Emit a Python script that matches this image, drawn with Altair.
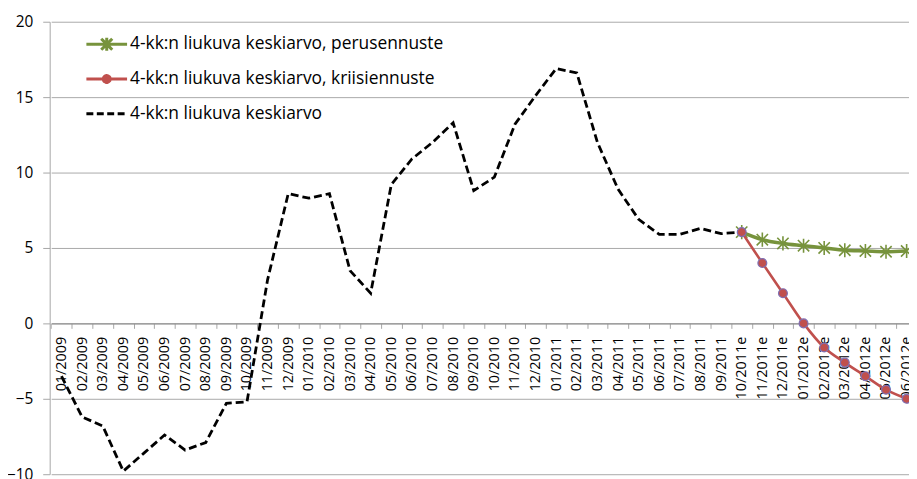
import altair as alt
import pandas as pd

months = [
    "01/2009", "02/2009", "03/2009", "04/2009", "05/2009", "06/2009",
    "07/2009", "08/2009", "09/2009", "10/2009", "11/2009", "12/2009",
    "01/2010", "02/2010", "03/2010", "04/2010", "05/2010", "06/2010",
    "07/2010", "08/2010", "09/2010", "10/2010", "11/2010", "12/2010",
    "01/2011", "02/2011", "03/2011", "04/2011", "05/2011", "06/2011",
    "07/2011", "08/2011", "09/2011",
    "10/2011e", "11/2011e", "12/2011e", "01/2012e", "02/2012e",
    "03/2012e", "04/2012e", "05/2012e", "06/2012e",
]

hist_months = months[:34]
hist_values = [
    -3.5, -6.2, -6.8, -9.8, -8.6, -7.4, -8.4, -7.9, -5.3, -5.2, 2.9, 8.6,
    8.3, 8.6, 3.5, 2.0, 9.2, 10.9, 12.0, 13.3, 8.8, 9.7, 13.2, 15.1,
    16.9, 16.6, 12.0, 8.9, 6.9, 5.9, 5.9, 6.3, 5.95, 6.05,
]

fc_months = months[33:]
base_values = [6.05, 5.55, 5.3, 5.15, 5.0, 4.85, 4.8, 4.75, 4.8]
crisis_values = [6.05, 4.0, 2.0, 0.0, -1.6, -2.6, -3.5, -4.4, -5.0]

S_BASE = "4-kk:n liukuva keskiarvo, perusennuste"
S_CRISIS = "4-kk:n liukuva keskiarvo, kriisiennuste"
S_HIST = "4-kk:n liukuva keskiarvo"
series_order = [S_BASE, S_CRISIS, S_HIST]
GREEN = "#77933c"
RED = "#c0504d"
series_colors = [GREEN, RED, "#000000"]

y_ticks = [-10, -5, 0, 5, 10, 15, 20]

df_hist = pd.DataFrame({"month": hist_months, "value": hist_values, "series": S_HIST})
df_base = pd.DataFrame({"month": fc_months, "value": base_values, "series": S_BASE})
df_crisis = pd.DataFrame({"month": fc_months, "value": crisis_values, "series": S_CRISIS})

# marker / legend symbol paths
ASTERISK = "M-1,-1L1,1M-1,1L1,-1M0,-1.25V1.25"
P_BASE = "M-1,0H1M-0.27,-0.27L0.27,0.27M-0.27,0.27L0.27,-0.27M0,-0.32V0.32"
P_CRISIS = ("M-1,0H1"
            "M-0.17,0A0.17,0.17 0 1,1 0.17,0A0.17,0.17 0 1,1 -0.17,0"
            "M-0.09,0A0.09,0.09 0 1,1 0.09,0A0.09,0.09 0 1,1 -0.09,0"
            "M-0.02,0A0.02,0.02 0 1,1 0.02,0A0.02,0.02 0 1,1 -0.02,0")
P_HIST = "M-1,0H1"

shape_sig = (
    f"datum.value === '{S_BASE}' ? '{P_BASE}' : "
    f"datum.value === '{S_CRISIS}' ? '{P_CRISIS}' : '{P_HIST}'"
)
dash_sig = f"datum.value === '{S_HIST}' ? [7, 3.5] : [1, 0]"

legend_def = alt.Legend(
    title=None,
    orient="none",
    legendX=35.5,
    legendY=5.3,
    padding=0,
    rowPadding=0,
    clipHeight=34.8,
    symbolSize=1681,
    symbolStrokeWidth=3,
    symbolType=alt.ExprRef(shape_sig),
    symbolDash=alt.ExprRef(dash_sig),
    symbolStrokeColor=alt.ExprRef("scale('color', datum.value)"),
    symbolFillColor=alt.ExprRef("scale('color', datum.value)"),
    labelFont="Open Sans",
    labelFontSize=17.5,
    labelColor="#000000",
    labelOffset=1.5,
    labelLimit=0,
)

x_enc = alt.X(
    "month:N",
    sort=months,
    bandPosition=0.5,
    scale=alt.Scale(type="band", domain=months, range=[1.5, 874],
                    paddingInner=0, paddingOuter=0),
    axis=alt.Axis(
        title=None, orient="bottom", offset=-152, zindex=0,
        domainColor="#868686", domainWidth=1,
        ticks=True, tickBand="extent", tickSize=5, tickColor="#a6a6a6",
        labelAngle=-90, labelFont="Open Sans", labelFontSize=14.5,
        labelColor="#000000", labelPadding=8, labelOverlap=False,
        labelBound=False, labelFlush=False, grid=False,
    ),
)
y_enc = alt.Y(
    "value:Q",
    scale=alt.Scale(domain=[-10, 20], nice=False, zero=False),
    axis=alt.Axis(
        title=None, values=y_ticks, grid=True, gridColor="#a9a9a9",
        gridWidth=1, domainColor="#a6a6a6", tickColor="#a6a6a6",
        tickSize=7, labelPadding=10, labelFont="Open Sans",
        labelFontSize=15.5, labelColor="#000000",
    ),
)
color_enc = alt.Color(
    "series:N",
    scale=alt.Scale(domain=series_order, range=series_colors),
    legend=legend_def,
)

base_line = alt.Chart(df_base).mark_line(
    interpolate="monotone", strokeWidth=3.5
).encode(x=x_enc, y=y_enc, color=color_enc)

hist_line = alt.Chart(df_hist).mark_line(
    strokeDash=[8, 4], strokeWidth=2.8
).encode(x=x_enc, y=y_enc, color=color_enc)

base_pts = alt.Chart(df_base).mark_point(
    shape=ASTERISK, size=130, filled=False, stroke=GREEN,
    strokeWidth=1.6, opacity=1
).encode(x=x_enc, y=y_enc)

crisis_line = alt.Chart(df_crisis).mark_line(
    interpolate="monotone", strokeWidth=2.6
).encode(x=x_enc, y=y_enc, color=color_enc)

crisis_pts = alt.Chart(df_crisis).mark_circle(
    size=80, color=RED, stroke="#7f6fb3", strokeWidth=1.2, opacity=1
).encode(x=x_enc, y=y_enc)

chart = alt.layer(
    base_line, hist_line, base_pts, crisis_line, crisis_pts
).properties(
    width=866,
    height=456,
    autosize=alt.AutoSizeParams(type="none"),
    padding={"left": 42, "top": 12, "right": 0, "bottom": 3},
    background="white",
).configure_view(strokeWidth=0)

chart.save("out.html", embed_options={"renderer": "svg", "actions": False})
